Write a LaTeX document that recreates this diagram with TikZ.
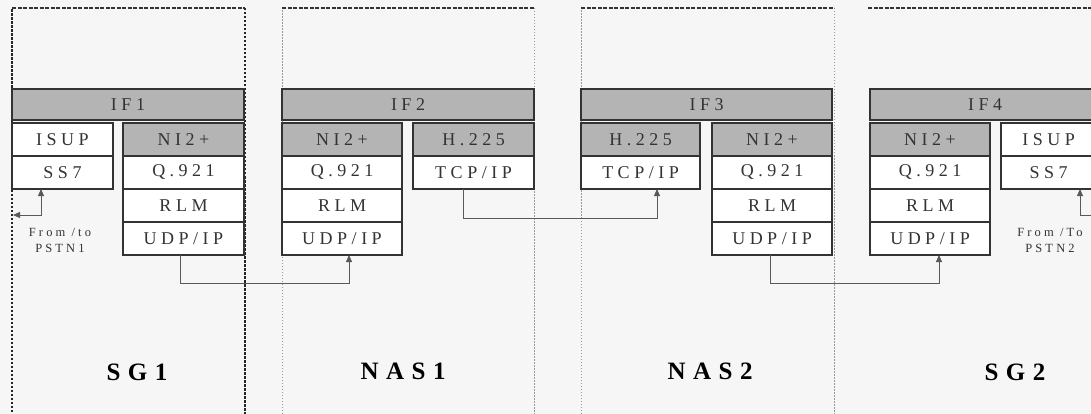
\documentclass[tikz,border=0pt]{standalone}
\usepackage{fontspec}
\setmainfont{Liberation Serif}
\newfontfamily\cellfont[LetterSpace=25]{Liberation Serif}
\newfontfamily\namefont[LetterSpace=30]{Liberation Serif}
\usetikzlibrary{positioning,arrows.meta}

\definecolor{paper}{HTML}{F6F6F6}
\definecolor{shade}{HTML}{B4B4B4}
\definecolor{ink}{HTML}{333333}

\tikzset{
  cell/.style={draw=ink, line width=1.3pt, fill=white, minimum height=33pt,
    inner sep=0pt, outer sep=0pt, text=ink,
    font=\cellfont\fontsize{18}{18}\selectfont},
  shaded/.style={cell, fill=shade},
  ifbar/.style={shaded, minimum height=31pt},
  note/.style={align=center, text=ink, inner sep=0pt,
    font=\cellfont\fontsize{12.5}{16}\selectfont},
  boxname/.style={text=black, inner sep=0pt,
    font=\namefont\bfseries\fontsize{25}{25}\selectfont},
  link/.style={draw=black!65, line width=0.9pt,
    -{Triangle[length=7pt,width=6pt]}},
  sgedge/.style={black!85, line width=1.1pt, dash pattern=on 2.5pt off 1.5pt},
  nasedge/.style={black!40, line width=1pt, dash pattern=on 1.5pt off 1.5pt},
  topedge/.style={black!80, line width=1.1pt, dash pattern=on 4pt off 1.5pt}
}

\begin{document}
\begin{tikzpicture}[x=1pt,y=-1pt]
    \useasboundingbox (0,0) rectangle (1091,414);
    \fill[paper] (0,0) rectangle (1091,414);
    \clip (0,0) rectangle (1091,414);

    % dashed outlines of the four boxes
    \draw[sgedge] (12,420) -- (12,8);
    \draw[sgedge] (245,8) -- (245,420);
    \draw[topedge] (12,8) -- (245,8);
    \draw[nasedge] (282,420) -- (282,8);
    \draw[nasedge] (534,8) -- (534,420);
    \draw[topedge] (282,8) -- (534,8);
    \draw[nasedge] (581,420) -- (581,8);
    \draw[nasedge] (834,8) -- (834,420);
    \draw[topedge] (581,8) -- (834,8);
    \draw[topedge] (868,8) -- (1095,8);

    % SG1
    \node[ifbar, minimum width=232pt, anchor=north west] (if1) at (12,89) {IF1};
    \node[cell, minimum width=101pt, anchor=north west] (sg1isup) at (12,123) {ISUP};
    \node[cell, minimum width=101pt, below=0pt of sg1isup] (sg1ss7) {SS7};
    \node[shaded, minimum width=121pt, anchor=north west] (sg1ni) at (123,123) {NI2+};
    \node[cell, minimum width=121pt, below=0pt of sg1ni] (sg1q) {Q.921};
    \node[cell, minimum width=121pt, below=0pt of sg1q] (sg1rlm) {RLM};
    \node[cell, minimum width=121pt, below=0pt of sg1rlm] (sg1udp) {UDP/IP};
    \node[note] (pstn1txt) at (60,240) {From /to\\PSTN1};
    \node[boxname] (sg1) at (137,372) {SG1};

    % NAS1
    \node[ifbar, minimum width=252pt, anchor=north west] (if2) at (282,89) {IF2};
    \node[shaded, minimum width=120pt, anchor=north west] (nas1ni) at (282,123) {NI2+};
    \node[cell, minimum width=120pt, below=0pt of nas1ni] (nas1q) {Q.921};
    \node[cell, minimum width=120pt, below=0pt of nas1q] (nas1rlm) {RLM};
    \node[cell, minimum width=120pt, below=0pt of nas1rlm] (nas1udp) {UDP/IP};
    \node[shaded, minimum width=121pt, anchor=north west] (nas1h) at (413,123) {H.225};
    \node[cell, minimum width=121pt, below=0pt of nas1h] (nas1tcp) {TCP/IP};
    \node[boxname] (nas1) at (403,371) {NAS1};

    % NAS2
    \node[ifbar, minimum width=251pt, anchor=north west] (if3) at (581,89) {IF3};
    \node[shaded, minimum width=119pt, anchor=north west] (nas2h) at (581,123) {H.225};
    \node[cell, minimum width=119pt, below=0pt of nas2h] (nas2tcp) {TCP/IP};
    \node[shaded, minimum width=120pt, anchor=north west] (nas2ni) at (712,123) {NI2+};
    \node[cell, minimum width=120pt, below=0pt of nas2ni] (nas2q) {Q.921};
    \node[cell, minimum width=120pt, below=0pt of nas2q] (nas2rlm) {RLM};
    \node[cell, minimum width=120pt, below=0pt of nas2rlm] (nas2udp) {UDP/IP};
    \node[boxname] (nas2) at (710,371) {NAS2};

    % SG2
    \node[ifbar, minimum width=230pt, anchor=north west] (if4) at (870,89) {IF4};
    \node[shaded, minimum width=120pt, anchor=north west] (sg2ni) at (870,123) {NI2+};
    \node[cell, minimum width=120pt, below=0pt of sg2ni] (sg2q) {Q.921};
    \node[cell, minimum width=120pt, below=0pt of sg2q] (sg2rlm) {RLM};
    \node[cell, minimum width=120pt, below=0pt of sg2rlm] (sg2udp) {UDP/IP};
    \node[cell, minimum width=95pt, anchor=north west] (sg2isup) at (1001,123) {ISUP};
    \node[cell, minimum width=95pt, below=0pt of sg2isup] (sg2ss7) {SS7};
    \node[note] (pstn2txt) at (1050,240) {From /To\\PSTN2};
    \node[boxname] (sg2) at (1015,372) {SG2};

    % links between the stacks
    \coordinate (pstn1) at (13,215);
    \coordinate (pstn2) at (1096,215);
    \draw[link, {Triangle[length=7pt,width=6pt]}-{Triangle[length=7pt,width=6pt]}]
        (pstn1) -| ([xshift=-21.5pt]sg1ss7.south);
    \draw[link] (pstn2) -| ([xshift=31.5pt]sg2ss7.south);
    \draw[link] ([xshift=-3.5pt]sg1udp.south) -- ++(0,28) -| ([xshift=7pt]nas1udp.south);
    \draw[link] ([xshift=-10.5pt]nas1tcp.south) -- ++(0,29) -| ([xshift=16.5pt]nas2tcp.south);
    \draw[link] ([xshift=-2pt]nas2udp.south) -- ++(0,28) -| ([xshift=9pt]sg2udp.south);
\end{tikzpicture}
\end{document}
